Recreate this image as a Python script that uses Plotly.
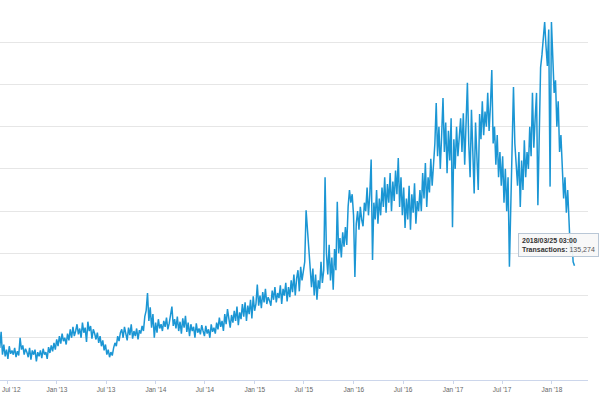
import pandas as pd
import plotly.graph_objects as go

tx_k = [
    38, 57, 30, 42, 28, 36, 25, 40, 31, 35,
    30, 38, 27, 34, 29, 50, 36, 41, 30, 37,
    33, 27, 38, 24, 35, 30, 36, 22, 33, 28,
    35, 26, 37, 30, 33, 25, 39, 32, 41, 34,
    44, 36, 48, 40, 52, 43, 55, 46, 50, 42,
    55, 47, 60, 50, 63, 52, 58, 66, 54, 61,
    50, 68, 56, 62, 45, 69, 58, 64, 49, 60,
    55, 48, 56, 44, 52, 40, 47, 35, 42, 30,
    36, 27, 33, 29, 38, 44, 40, 52, 46, 56,
    60, 50, 63, 55, 47, 62, 53, 66, 49, 58,
    52, 61, 48, 59, 55, 64, 58, 75, 82, 103,
    70, 86, 62, 78, 50, 68, 56, 72, 61, 66,
    58, 70, 63, 74, 60, 67, 77, 87, 64, 72,
    61, 75, 58, 69, 55, 73, 62, 76, 57, 68,
    52, 66, 58, 63, 50, 67, 56, 61, 54, 65,
    58, 52, 64, 55, 60, 50, 66, 57, 62, 55,
    68, 60, 74, 63, 70, 58, 78, 66, 84, 69,
    62, 77, 68, 82, 70, 87, 65, 80, 72, 90,
    75, 92, 70, 88, 78, 95, 73, 99, 82, 90,
    113, 88, 100, 85, 104, 92, 108, 90, 98, 94,
    88, 106, 95, 110, 92, 103, 97, 112, 90, 108,
    100, 115, 93, 110, 98, 118, 104, 125, 100, 120,
    130, 105, 134, 118, 128, 140, 201, 176, 150, 128,
    110, 132, 100, 125, 95, 118, 108, 140, 115, 130,
    240, 150, 125, 160, 118, 145, 107, 155, 130, 211,
    150, 168, 145, 175, 158, 181, 160, 205, 225, 210,
    220, 195, 122, 185, 200, 178, 205, 190, 182, 210,
    200, 228, 195, 220, 261, 142, 210, 190, 225, 185,
    215, 195, 228, 205, 240, 198, 232, 210, 245, 200,
    235, 212, 248, 220, 263, 205, 240, 195, 228, 180,
    215, 190, 230, 178, 220, 198, 233, 185, 212, 200,
    225, 200, 245, 215, 257, 205, 240, 222, 262, 230,
    255, 280, 328, 265, 300, 250, 290, 334, 270, 305,
    245, 295, 260, 310, 181, 285, 250, 300, 265, 290,
    310, 270, 316, 255, 300, 352, 280, 240, 320, 265,
    221, 305, 260, 225, 315, 285, 330, 290, 318, 300,
    340, 295, 325, 367, 280, 300, 255, 290, 240, 270,
    230, 265, 210, 250, 200, 240, 134, 220, 260, 347,
    280, 250, 230, 270, 205, 260, 225, 284, 240, 270,
    250, 300, 265, 340, 275, 310, 340, 207, 290, 370,
    385, 410, 424, 395, 372, 415, 229, 424, 380, 340,
    355, 300, 330, 270, 290, 250, 215, 240, 198, 225,
    185, 150, 170, 140, 135.274,
]
last_date = "2018-03-25 03:00"
tick_vals = ["2012-07-01", "2013-01-01", "2013-07-01", "2014-01-01", "2014-07-01",
             "2015-01-01", "2015-07-01", "2016-01-01", "2016-07-01", "2017-01-01",
             "2017-07-01", "2018-01-01"]
tick_text = ["Jul '12", "Jan '13", "Jul '13", "Jan '14", "Jul '14", "Jan '15",
             "Jul '15", "Jan '16", "Jul '16", "Jan '17", "Jul '17", "Jan '18"]
grid_vals = [50000, 100000, 150000, 200000, 250000, 300000, 350000, 400000]

dates = pd.date_range(end=last_date, periods=len(tx_k), freq="5D")
tx = [v * 1000 for v in tx_k]

fig = go.Figure()
fig.add_trace(go.Scatter(
    x=dates, y=tx, mode="lines", name="Transactions",
    line=dict(color="#1b96d4", width=1.5),
    hoverinfo="skip",
))

fig.update_layout(
    width=600, height=394,
    margin=dict(l=0, r=12, t=0, b=14),
    paper_bgcolor="white", plot_bgcolor="white",
    showlegend=False,
    font=dict(family="Liberation Sans, Arial, sans-serif"),
    xaxis=dict(
        range=["2012-06-05", "2018-05-14"],
        tickvals=tick_vals, ticktext=tick_text,
        tickfont=dict(size=6.5, color="#666666"),
        showgrid=False, showline=True, linecolor="#ccd6eb", linewidth=1,
        ticks="outside", ticklen=3, tickcolor="#ccd6eb",
        zeroline=False,
    ),
    yaxis=dict(
        range=[0, 450000],
        tickvals=grid_vals, showticklabels=False,
        showgrid=True, gridcolor="#e6e6e6", gridwidth=1,
        zeroline=False, showline=False, ticks="",
    ),
)

# first tick label sits at the left edge; Plotly hides it, so draw it as text kept inside the page
fig.add_annotation(
    xref="paper", yref="paper", x=0, y=0, xshift=0, yshift=-4,
    xanchor="left", yanchor="top", showarrow=False,
    text=tick_text[0], font=dict(size=6.5, color="#666666"),
)

fig.add_annotation(
    xref="paper", yref="paper", x=0.949, y=0.355,
    xanchor="center", yanchor="middle", showarrow=False,
    text=f"<b>2018/03/25 03:00</b><br><b>Transactions:</b> <span style='color:#555'>{tx[-1]:,.0f}</span>",
    align="left",
    font=dict(size=7, color="#333333", family="Liberation Sans, Arial, sans-serif"),
    bgcolor="rgba(247,247,247,0.92)", bordercolor="#b9c7d6", borderwidth=1, borderpad=3,
)

fig.write_html("out.html")
